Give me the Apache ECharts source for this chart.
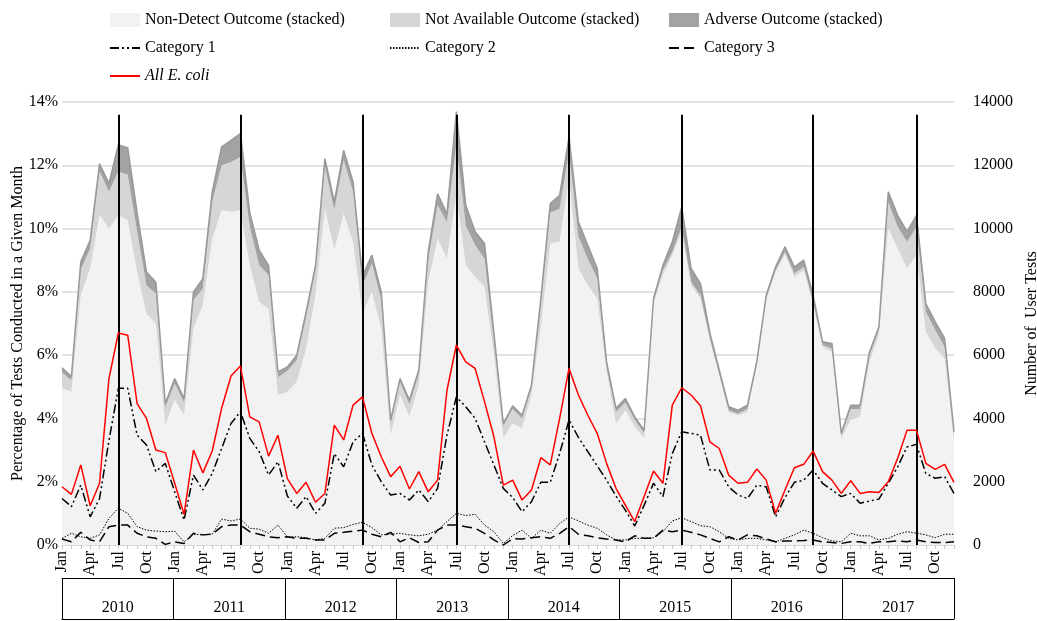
<!DOCTYPE html>
<html>
<head>
<meta charset="utf-8">
<script src="https://cdn.jsdelivr.net/npm/echarts@6/dist/echarts.min.js"></script>
<style>
  html, body { margin: 0; padding: 0; background: #fff; }
  #chart { width: 1037px; height: 621px; }
</style>
</head>
<body>
<div id="chart"></div>
<script>
// month / year labels
const monthNames = ["Jan", "Feb", "Mar", "Apr", "May", "Jun", "Jul", "Aug", "Sep", "Oct", "Nov", "Dec"];
const years = ["2010", "2011", "2012", "2013", "2014", "2015", "2016", "2017"];

// number of user tests per month (right axis, stacked)
const nonDetect = [
  4950, 4840, 7900, 8740, 10420, 10000, 10420, 10260, 8630, 7300, 7000, 3800,
  4580, 4100, 6840, 7580, 9680, 10580, 10530, 10580, 8840, 7680, 7470, 4740,
  4840, 5160, 6210, 7890, 10630, 9320, 10470, 9580, 7300, 8000, 6840, 3470,
  4740, 4050, 5050, 8320, 9680, 9050, 11050, 8840, 8470, 8160, 6000, 3370,
  3850, 3680, 4740, 6900, 9530, 9580, 11600, 8740, 8210, 7790, 5470, 3840,
  4260, 3740, 3370, 7650, 8530, 9160, 9900, 8210, 7790, 6470, 5350, 4200,
  4100, 4200, 5680, 7740, 8630, 9180, 8470, 8680, 7580, 6260, 6100, 3370,
  3950, 4050, 5790, 6630, 10000, 9370, 8740, 9160, 6740, 6210, 5890, 3260
];
const notAvailable = [
  500, 360, 800, 630, 1380, 1160, 1380, 1440, 1270, 900, 950, 550,
  520, 400, 900, 520, 1160, 1420, 1570, 1680, 1210, 1160, 1060, 560,
  660, 690, 990, 760, 1320, 1260, 1690, 1580, 900, 900, 910, 380,
  410, 400, 350, 680, 1060, 1150, 1580, 1260, 1000, 890, 400, 380,
  450, 320, 210, 700, 970, 1050, 800, 1000, 840, 630, 130, 360,
  240, 210, 160, 60, 150, 100, 150, 110, 100, 50, 50, 50,
  50, 100, 30, 60, 50, 80, 110, 110, 100, 60, 100, 80,
  350, 250, 210, 170, 840, 680, 840, 890, 630, 580, 370, 240
];
const adverse = [
  150, 120, 250, 260, 250, 260, 850, 850, 600, 430, 350, 120,
  160, 130, 260, 320, 320, 580, 690, 740, 450, 480, 310, 170,
  130, 150, 170, 190, 260, 260, 310, 310, 300, 260, 250, 100,
  110, 130, 130, 260, 360, 270, 1070, 640, 430, 480, 300, 90,
  100, 100, 100, 200, 290, 420, 500, 470, 420, 320, 190, 120,
  130, 100, 100, 80, 160, 320, 630, 420, 370, 180, 130, 120,
  110, 120, 90, 90, 110, 160, 210, 210, 210, 100, 170, 80,
  120, 120, 100, 90, 320, 370, 320, 370, 260, 260, 270, 80
];

// percentage of tests (left axis)
const allEcoli = [
  1.84, 1.6, 2.53, 1.24, 1.95, 5.26, 6.7, 6.63, 4.47, 4.0, 3.0, 2.92,
  1.95, 0.97, 3.0, 2.28, 2.97, 4.32, 5.34, 5.66, 4.05, 3.89, 2.81, 3.47,
  2.1, 1.63, 1.98, 1.35, 1.63, 3.79, 3.32, 4.42, 4.68, 3.53, 2.79, 2.16,
  2.49, 1.77, 2.32, 1.68, 2.05, 4.89, 6.32, 5.79, 5.58, 4.53, 3.42, 1.89,
  2.05, 1.42, 1.74, 2.76, 2.53, 4.0, 5.58, 4.74, 4.1, 3.53, 2.58, 1.79,
  1.26, 0.74, 1.53, 2.34, 1.95, 4.42, 4.97, 4.74, 4.4, 3.26, 3.05, 2.21,
  1.95, 1.98, 2.4, 2.05, 1.0, 1.74, 2.44, 2.55, 2.97, 2.32, 2.05, 1.63,
  2.03, 1.63, 1.68, 1.66, 2.0, 2.74, 3.63, 3.63, 2.58, 2.39, 2.55, 1.98
];
const category1 = [
  1.47, 1.21, 1.89, 0.89, 1.47, 3.3, 4.95, 4.95, 3.47, 3.16, 2.32, 2.58,
  1.68, 0.79, 2.21, 1.74, 2.26, 3.05, 3.84, 4.21, 3.37, 2.95, 2.21, 2.63,
  1.55, 1.16, 1.53, 1.0, 1.32, 2.89, 2.47, 3.26, 3.53, 2.53, 2.0, 1.58,
  1.63, 1.42, 1.74, 1.37, 1.79, 3.47, 4.68, 4.37, 4.0, 3.26, 2.53, 1.79,
  1.5, 1.05, 1.37, 1.98, 1.98, 2.89, 3.95, 3.4, 2.95, 2.5, 2.05, 1.55,
  1.1, 0.6, 1.26, 1.95, 1.53, 2.89, 3.58, 3.53, 3.47, 2.37, 2.37, 1.84,
  1.58, 1.47, 1.89, 1.84, 0.89, 1.5, 1.98, 2.05, 2.37, 1.95, 1.74, 1.53,
  1.63, 1.32, 1.39, 1.45, 1.95, 2.47, 3.1, 3.18, 2.26, 2.11, 2.16, 1.63
];
const category2 = [
  0.21, 0.37, 0.26, 0.21, 0.32, 0.84, 1.16, 1.0, 0.58, 0.47, 0.44, 0.42,
  0.44, 0.1, 0.34, 0.32, 0.34, 0.82, 0.76, 0.82, 0.53, 0.5, 0.37, 0.63,
  0.26, 0.26, 0.23, 0.16, 0.21, 0.53, 0.55, 0.65, 0.72, 0.55, 0.32, 0.34,
  0.37, 0.32, 0.29, 0.34, 0.47, 0.74, 1.0, 0.93, 0.97, 0.63, 0.42, 0.05,
  0.3, 0.47, 0.21, 0.47, 0.37, 0.68, 0.89, 0.76, 0.63, 0.53, 0.32, 0.16,
  0.16, 0.21, 0.21, 0.23, 0.42, 0.76, 0.86, 0.74, 0.61, 0.58, 0.42, 0.21,
  0.16, 0.21, 0.21, 0.16, 0.1, 0.21, 0.32, 0.47, 0.37, 0.23, 0.13, 0.1,
  0.37, 0.29, 0.29, 0.16, 0.21, 0.34, 0.42, 0.37, 0.32, 0.23, 0.34, 0.34
];
const category3 = [
  0.19, 0.1, 0.4, 0.16, 0.1, 0.58, 0.63, 0.63, 0.37, 0.26, 0.21, 0.02,
  0.1, 0.05, 0.37, 0.32, 0.34, 0.58, 0.63, 0.63, 0.42, 0.34, 0.26, 0.23,
  0.26, 0.21, 0.21, 0.16, 0.16, 0.37, 0.4, 0.44, 0.47, 0.34, 0.26, 0.4,
  0.1, 0.23, 0.08, 0.1, 0.47, 0.63, 0.63, 0.58, 0.53, 0.37, 0.16, 0.0,
  0.2, 0.19, 0.23, 0.26, 0.21, 0.37, 0.58, 0.34, 0.29, 0.23, 0.19, 0.16,
  0.1, 0.29, 0.21, 0.21, 0.47, 0.42, 0.47, 0.4, 0.32, 0.21, 0.1, 0.26,
  0.16, 0.32, 0.29, 0.19, 0.1, 0.13, 0.13, 0.14, 0.16, 0.1, 0.08, 0.05,
  0.1, 0.1, 0.05, 0.1, 0.1, 0.13, 0.1, 0.16, 0.1, 0.08, 0.08, 0.1
];

// months marked with a vertical line (yearly peak)
const peakMonths = ["2010-07", "2011-08", "2012-09", "2013-07", "2014-07", "2015-07", "2016-09", "2017-08"];
const peakLineTop = 13.6;

// categories like "2010-01"
const months = [];
years.forEach((y) => {
  for (let m = 1; m <= 12; m++) months.push(y + "-" + (m < 10 ? "0" + m : m));
});

const font = "Liberation Serif";
const chart = echarts.init(document.getElementById("chart"));

const areaSeries = (name, data, color, line) => ({
  name: name,
  type: "line",
  stack: "tests",
  yAxisIndex: 1,
  data: data,
  symbol: "none",
  color: color,
  lineStyle: line ? { width: 1.5, color: "#999999" } : { width: 0 },
  areaStyle: { color: color, opacity: 1 },
  z: 1,
  silent: true,
});

const lineSeries = (name, data, color, width, dash, z) => ({
  name: name,
  type: "line",
  yAxisIndex: 0,
  data: data,
  symbol: "none",
  color: color,
  lineStyle: { color: color, width: width, type: dash },
  z: z,
  silent: true,
});

// legend entries: rect for areas, plain line (no dot) for lines
const rectItem = (name) => ({ name: name, icon: "rect", itemStyle: { borderWidth: 0 } });
const lineItem = (name, extra) => Object.assign({ name: name, itemStyle: { opacity: 0 } }, extra || {});

const legendBase = {
  orient: "vertical",
  top: 12,
  padding: 0,
  itemWidth: 30,
  itemHeight: 14,
  itemGap: 12,
  textStyle: { fontFamily: font, fontSize: 16, color: "#000" },
  selectedMode: false,
};

const redSeries = lineSeries("All E. coli", allEcoli, "#ff0000", 1.5, "solid", 6);
redSeries.markLine = {
  silent: true,
  symbol: ["none", "none"],
  label: { show: false },
  lineStyle: { color: "#000", width: 2, type: "solid" },
  data: peakMonths.map((m) => [{ coord: [m, 0] }, { coord: [m, peakLineTop] }]),
};

chart.setOption({
  animation: false,
  textStyle: { fontFamily: font },
  legend: [
    Object.assign({}, legendBase, {
      left: 109,
      data: [
        rectItem("Non-Detect Outcome (stacked)"),
        lineItem("Category 1"),
        lineItem("All E. coli", { textStyle: { fontStyle: "italic" } }),
      ],
    }),
    Object.assign({}, legendBase, {
      left: 389,
      data: [rectItem("Not Available Outcome (stacked)"), lineItem("Category 2")],
    }),
    Object.assign({}, legendBase, {
      left: 668,
      data: [rectItem("Adverse Outcome (stacked)"), lineItem("Category 3")],
    }),
  ],
  grid: { left: 62, right: 83, top: 102, bottom: 76, outerBoundsMode: "none" },
  xAxis: [
    {
      type: "category",
      data: months,
      boundaryGap: false,
      axisLine: { show: true, onZero: false, lineStyle: { color: "#d9d9d9" } },
      axisTick: { show: true, interval: 0, length: 4, lineStyle: { color: "#c8c8c8" } },
      axisLabel: {
        interval: 2,
        rotate: 90,
        margin: 6,
        fontFamily: font,
        fontSize: 16,
        color: "#000",
        formatter: (v, i) => monthNames[i % 12],
      },
      splitLine: { show: false },
    },
    {
      type: "category",
      data: years,
      position: "bottom",
      offset: 33,
      boundaryGap: true,
      axisLine: { show: true, onZero: false, lineStyle: { color: "#000", width: 1 } },
      axisTick: { show: true, interval: 0, length: 41, lineStyle: { color: "#000", width: 1 } },
      axisLabel: { margin: 22, fontFamily: font, fontSize: 16, color: "#000" },
      splitLine: { show: false },
    },
    {
      type: "category",
      data: years,
      position: "bottom",
      offset: 74,
      boundaryGap: true,
      axisLine: { show: true, onZero: false, lineStyle: { color: "#000", width: 1 } },
      axisTick: { show: false },
      axisLabel: { show: false },
      splitLine: { show: false },
    },
  ],
  yAxis: [
    {
      type: "value",
      min: 0,
      max: 14,
      interval: 2,
      name: "Percentage of Tests Conducted in a Given Month",
      nameLocation: "middle",
      nameGap: 36,
      nameMoveOverlap: false,
      nameTextStyle: { fontFamily: font, fontSize: 16, color: "#000" },
      axisLine: { show: false },
      axisTick: { show: false },
      axisLabel: { formatter: "{value}%", margin: 4, fontFamily: font, fontSize: 16, color: "#000" },
      splitLine: { show: true, lineStyle: { color: "#d9d9d9", width: 1.5 } },
    },
    {
      type: "value",
      min: 0,
      max: 14000,
      interval: 2000,
      position: "right",
      name: "Number of  User Tests",
      nameLocation: "middle",
      nameRotate: 90,
      nameGap: 62,
      nameTextStyle: { fontFamily: font, fontSize: 16, color: "#000" },
      axisLine: { show: false },
      axisTick: { show: false },
      axisLabel: { margin: 19, fontFamily: font, fontSize: 16, color: "#000", formatter: (v) => String(v) },
      splitLine: { show: false },
    },
  ],
  series: [
    areaSeries("Non-Detect Outcome (stacked)", nonDetect, "#f2f2f2", false),
    areaSeries("Not Available Outcome (stacked)", notAvailable, "#d6d6d6", false),
    areaSeries("Adverse Outcome (stacked)", adverse, "#a3a3a3", true),
    lineSeries("Category 1", category1, "#000000", 1.5, [9, 3, 2, 3, 2, 3], 3),
    lineSeries("Category 2", category2, "#000000", 1, [1.5, 1.5], 4),
    lineSeries("Category 3", category3, "#000000", 1.5, [10, 5], 5),
    redSeries,
  ],
});
</script>
</body>
</html>
